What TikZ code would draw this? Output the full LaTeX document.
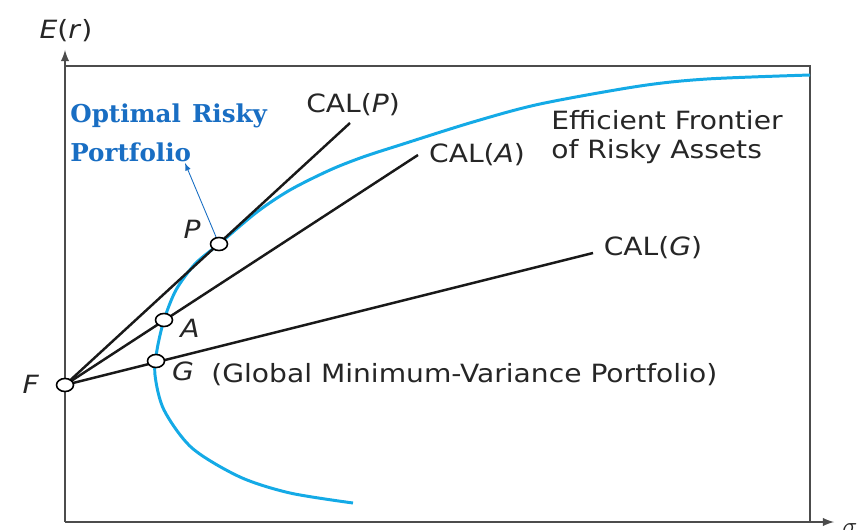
\documentclass[tikz,border=0pt]{standalone}
\usepackage{fontspec}
\setmainfont{DejaVu Sans}[FakeStretch=1.12]
\newfontfamily\slabfont{DejaVu Serif}
\usetikzlibrary{shapes.geometric}
\definecolor{frontier}{RGB}{20,170,230}
\definecolor{optblue}{RGB}{25,110,195}
\tikzset{
  pt/.style={ellipse, draw, fill=white, line width=0.9pt, minimum width=0.34cm, minimum height=0.26cm, inner sep=0pt},
  lbl/.style={font=\fontsize{14.3}{16.5}\selectfont, inner sep=0pt, text=black!85},
  cal/.style={line width=1.4pt, black!90},
  axis/.style={line width=1.2pt, black!70},
}
\begin{document}
\begin{tikzpicture}[x=0.02cm,y=-0.02cm]
    \useasboundingbox (0,0) rectangle (858,530);
    % axes and frame
    \coordinate (o) at (65,522);
    \coordinate (ytip) at (65,50);
    \coordinate (xtip) at (834,522);
    \coordinate (tl) at (65,66);
    \coordinate (tr) at (810,66);
    \coordinate (br) at (810,522);
    \draw [axis] (tl) -- (tr) -- (br);
    \draw [axis,-latex] (o) -- (ytip);
    \draw [axis,-latex] (o) -- (xtip);
    \node [lbl] (er) at (66,31) {\textit{E}(\textit{r})};
    \node [lbl,anchor=west] (sig) at (842,529) {$\sigma$};
    % points
    \coordinate (F) at (65,385);
    \coordinate (G) at (156,361);
    \coordinate (A) at (164,320);
    \coordinate (P) at (219,244);
    \coordinate (calP) at (350,123);
    \coordinate (calA) at (418,155);
    \coordinate (calG) at (593,253);
    % frontier
    \draw [frontier,line width=1.7pt] plot [smooth,tension=0.5] coordinates {
      (353,503) (290,493) (240,477) (192,448) (164,410) (155,375) (157,350)
      (164,320) (176,290) (195,264) (219,244) (257,212) (290,190) (330,170)
      (363,157) (400,145) (473,122) (540,104) (640,86) (707,79) (810,75)};
    % capital allocation lines
    \draw [cal] (F) -- (calP);
    \draw [cal] (F) -- (calA);
    \draw [cal] (F) -- (calG);
    \coordinate (opttip) at (185,163);
    \draw [optblue,line width=0.5pt,-latex] (P) -- (opttip);
    \foreach \p in {F,G,A,P}
      \node [pt] (\p dot) at (\p) {};
    % labels
    \node [lbl] (calPl) at (353,105) {CAL(\textit{P})};
    \node [lbl] (calAl) at (477,155) {CAL(\textit{A})};
    \node [lbl] (calGl) at (653,248) {CAL(\textit{G})};
    \node [lbl,anchor=west,align=left] (eff) at (551,137) {Efficient Frontier\\of Risky Assets};
    \node [lbl] (Fl) at (31,384) {\textit{F}};
    \node [lbl] (Pl) at (192,229) {\textit{P}};
    \node [lbl] (Al) at (190,328) {\textit{A}};
    \node [lbl] (Gl) at (183,371) {\textit{G}};
    \node [lbl,anchor=west] (gmv) at (211,375) {(Global Minimum-Variance Portfolio)};
    \node [anchor=west,align=left,inner sep=0pt,text=optblue,font=\slabfont\bfseries\fontsize{14}{22}\selectfont] (opt) at (70,133) {Optimal\hspace{0.45em}Risky\\Portfolio};
\end{tikzpicture}
\end{document}
